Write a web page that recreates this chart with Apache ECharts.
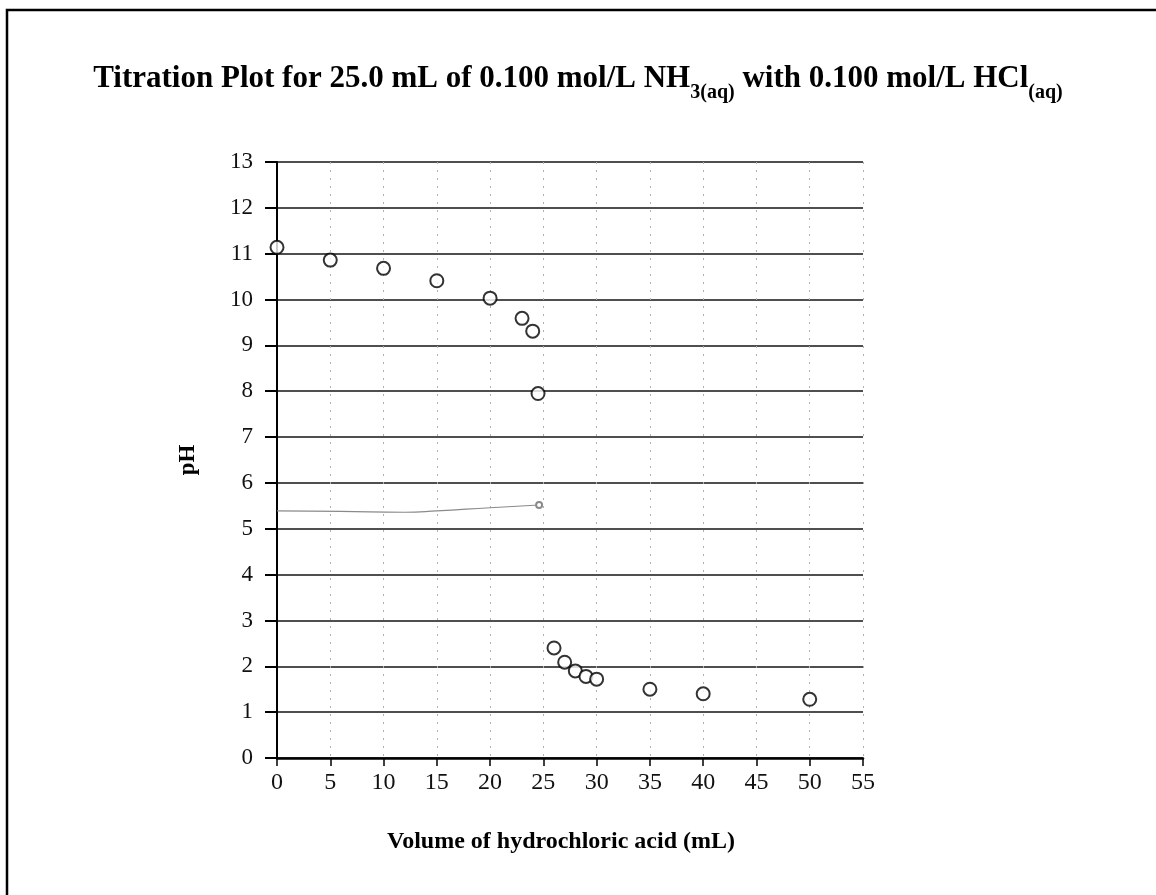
<!DOCTYPE html>
<html>
<head>
<meta charset="utf-8">
<script src="https://cdn.jsdelivr.net/npm/echarts@6/dist/echarts.min.js"></script>
<style>
html,body{margin:0;padding:0;background:#fff;}
#chart{width:1156px;height:895px;}
</style>
</head>
<body>
<div id="chart"></div>
<script>
// Data
const volumes = [0, 5, 10, 15, 20, 23, 24, 24.5, 26, 27, 28, 29, 30, 35, 40, 50];
const pHValues = [11.14, 10.86, 10.68, 10.41, 10.03, 9.59, 9.31, 7.95, 2.4, 2.09, 1.9, 1.78, 1.72, 1.5, 1.4, 1.28];
// faint hand-drawn pencil line on the scan
const sketchX = [0, 6, 12, 15, 20, 24.6];
const sketchY = [5.39, 5.38, 5.36, 5.39, 5.46, 5.52];

const titleMain1 = 'Titration Plot for 25.0 mL of 0.100 mol/L NH';
const titleSub1 = '3(aq)';
const titleMain2 = ' with 0.100 mol/L HCl';
const titleSub2 = '(aq)';
const xName = 'Volume of hydrochloric acid (mL)';
const yName = 'pH';

const serif = 'Liberation Serif';

const chart = echarts.init(document.getElementById('chart'), null, {renderer: 'canvas'});

const points = volumes.map((v, i) => [v, pHValues[i]]);
const sketch = sketchX.map((v, i) => {
  const item = {value: [v, sketchY[i]]};
  if (i === sketchX.length - 1) {
    item.symbol = 'emptyCircle';
    item.symbolSize = 6;
  }
  return item;
});

chart.setOption({
  backgroundColor: '#fff',
  animation: false,
  title: {
    text: '{a|' + titleMain1 + '}{s|' + titleSub1 + '}{a|' + titleMain2 + '}{s|' + titleSub2 + '}',
    left: 'center',
    top: 58,
    padding: [5, 5, 5, 23],
    textStyle: {
      rich: {
        a: {fontFamily: serif, fontWeight: 'bold', fontSize: 31, lineHeight: 40, color: '#000', verticalAlign: 'top'},
        s: {fontFamily: serif, fontWeight: 'bold', fontSize: 20, lineHeight: 20, color: '#000', verticalAlign: 'bottom'}
      }
    }
  },
  graphic: [{
    type: 'rect',
    shape: {x: 7, y: 10, width: 1400, height: 1200},
    style: {fill: 'none', stroke: '#000', lineWidth: 2.5},
    silent: true,
    z: 100
  }],
  grid: {left: 277, right: 293, top: 162, bottom: 137, containLabel: false},
  xAxis: {
    type: 'value',
    min: 0, max: 55, interval: 5,
    name: xName,
    nameLocation: 'middle',
    nameGap: 72,
    nameTextStyle: {fontFamily: serif, fontWeight: 'bold', fontSize: 24, color: '#000', padding: [0, 18, 0, 0]},
    axisLine: {show: true, onZero: false, lineStyle: {color: '#000', width: 2.5}},
    axisTick: {show: true, length: 8, lineStyle: {color: '#000', width: 1.5}},
    axisLabel: {fontFamily: serif, fontSize: 24, color: '#111', margin: 13},
    splitLine: {show: true, lineStyle: {color: '#b0b0b0', type: [2, 6], width: 1}}
  },
  yAxis: {
    type: 'value',
    min: 0, max: 13, interval: 1,
    name: yName,
    nameLocation: 'middle',
    nameRotate: 90,
    nameGap: 77,
    nameTextStyle: {fontFamily: serif, fontWeight: 'bold', fontSize: 23, color: '#000'},
    axisLine: {show: true, onZero: false, lineStyle: {color: '#000', width: 2}},
    axisTick: {show: true, length: 12, lineStyle: {color: '#000', width: 2}},
    axisLabel: {fontFamily: serif, fontSize: 23, color: '#111', margin: 24},
    splitLine: {show: true, lineStyle: {color: '#141414', width: 1.6}}
  },
  series: [
    {
      name: 'sketch',
      type: 'line',
      data: sketch,
      smooth: true,
      showSymbol: true,
      symbol: 'none',
      lineStyle: {color: '#8a8a8a', width: 1.1},
      itemStyle: {color: '#8a8a8a', borderColor: '#8a8a8a', borderWidth: 1},
      z: 3,
      silent: true
    },
    {
      name: 'pH',
      type: 'scatter',
      data: points,
      symbol: 'circle',
      symbolSize: 13,
      itemStyle: {color: '#fff', borderColor: '#000', borderWidth: 2},
      z: 5
    }
  ]
});
</script>
</body>
</html>
